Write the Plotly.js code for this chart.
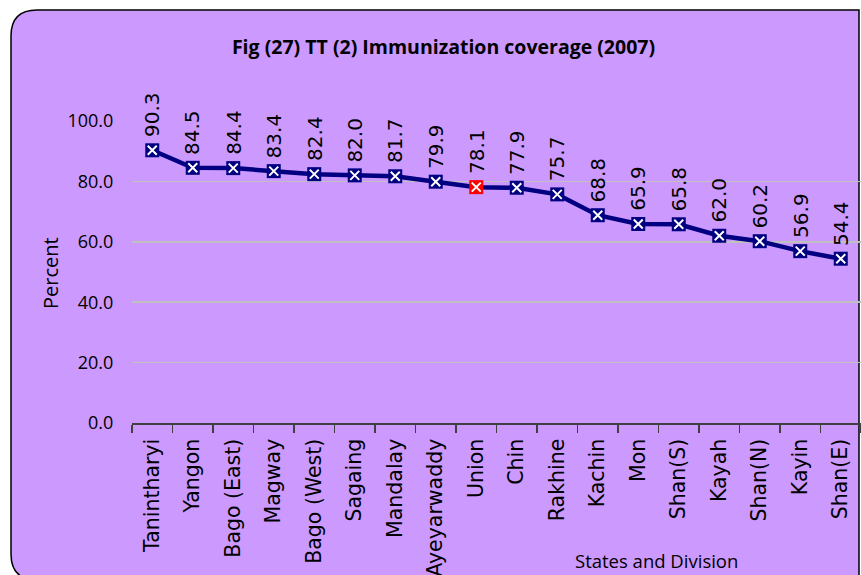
<!DOCTYPE html>
<html><head><meta charset="utf-8">
<script src="https://cdn.plot.ly/plotly-3.0.1.min.js"></script>
<style>html,body{margin:0;padding:0;overflow:hidden;background:#fff}</style>
</head><body><div id="chart" style="width:861px;height:575px"></div>
<script>
const categories = ["Tanintharyi","Yangon","Bago (East)","Magway","Bago (West)","Sagaing","Mandalay","Ayeyarwaddy","Union","Chin","Rakhine","Kachin","Mon","Shan(S)","Kayah","Shan(N)","Kayin","Shan(E)"];
const coverage = [90.3,84.5,84.4,83.4,82.4,82.0,81.7,79.9,78.1,77.9,75.7,68.8,65.9,65.8,62.0,60.2,56.9,54.4];
const highlight = "Union";
const yTicks = [0,20,40,60,80,100];

const navy = "#000080";
const markerColors = categories.map(c => c === highlight ? "#FF0000" : navy);

const W = 861, H = 575;
const L = 132, R = 0, T = 121, B = 152;
const pw = W - L - R, ph = H - T - B;
const px = x => (x - L) / pw;
const py = y => (H - B - y) / ph;

// rounded frame path in paper coords
const fx0 = 11, fy0 = 10, fx1 = 859, fy1 = 580, rr = 26;
const framePath = [
  "M", px(fx0 + rr), py(fy0),
  "L", px(fx1), py(fy0),
  "L", px(fx1), py(fy1),
  "L", px(fx0 + rr), py(fy1),
  "Q", px(fx0), py(fy1), px(fx0), py(fy1 - rr),
  "L", px(fx0), py(fy0 + rr),
  "Q", px(fx0), py(fy0), px(fx0 + rr), py(fy0),
  "Z"
].join(" ");

const traces = [
  {
    x: categories, y: coverage, type: "scatter", mode: "lines+markers",
    line: {color: navy, width: 4.5},
    marker: {symbol: "square", size: 14, color: markerColors, line: {width: 0}},
    hoverinfo: "x+y", cliponaxis: false
  },
  {
    x: categories, y: coverage, type: "scatter", mode: "markers",
    marker: {symbol: "x-thin", size: 9, color: "#FFFFFF", line: {color: "#FFFFFF", width: 2}},
    hoverinfo: "skip", cliponaxis: false
  }
];

const annotations = categories.map((c, i) => ({
  x: c, y: coverage[i], xref: "x", yref: "y",
  text: coverage[i].toFixed(1), textangle: -90, showarrow: false,
  xanchor: "center", yanchor: "bottom", yshift: 11,
  font: {family: "DejaVu Sans", size: 20, color: "#000"}
}));
annotations.push({
  xref: "paper", yref: "paper", x: px(656), y: py(560),
  text: "States and Division", showarrow: false, xanchor: "center", yanchor: "middle",
  font: {family: "Open Sans", size: 18.5, color: "#000"}
});
annotations.push({
  xref: "paper", yref: "paper", x: px(50), y: py(273),
  text: "Percent", textangle: -90, showarrow: false, xanchor: "center", yanchor: "middle",
  font: {family: "Open Sans", size: 20, color: "#000"}
});

const layout = {
  width: W, height: H,
  margin: {l: L, r: R, t: T, b: B},
  paper_bgcolor: "#FFFFFF", plot_bgcolor: "rgba(0,0,0,0)",
  showlegend: false,
  title: {
    text: "<b>Fig (27) TT (2) Immunization coverage (2007)</b>",
    xref: "container", x: 443.5 / W, xanchor: "center",
    yref: "container", y: 1 - 47 / H, yanchor: "middle",
    font: {family: "Open Sans", size: 19.5, color: "#000"}
  },
  xaxis: {
    type: "category", range: [-0.5, 17.5],
    showgrid: false, showline: true, linecolor: "#404040", linewidth: 1.5,
    ticks: "outside", tickson: "boundaries", ticklen: 8, tickcolor: "#404040", tickwidth: 1.2,
    ticklabelstandoff: 6,
    tickangle: -90, tickfont: {family: "DejaVu Sans", size: 20.5, color: "#000"},
    fixedrange: true
  },
  yaxis: {
    range: [0, 100], tickvals: yTicks, ticktext: yTicks.map(v => v.toFixed(1)),
    showgrid: true, gridcolor: "#C0C0C0", gridwidth: 1.5,
    showline: false, zeroline: false, ticks: "outside", ticklen: 14, tickcolor: "rgba(0,0,0,0)",
    tickfont: {family: "Open Sans", size: 18, color: "#000"},
    fixedrange: true
  },
  shapes: [{
    type: "path", xref: "paper", yref: "paper", path: framePath,
    fillcolor: "#CC99FF", line: {color: "#000000", width: 1.5}, layer: "below"
  }],
  annotations: annotations
};

Plotly.newPlot("chart", traces, layout, {displayModeBar: false, staticPlot: true});
</script></body></html>
